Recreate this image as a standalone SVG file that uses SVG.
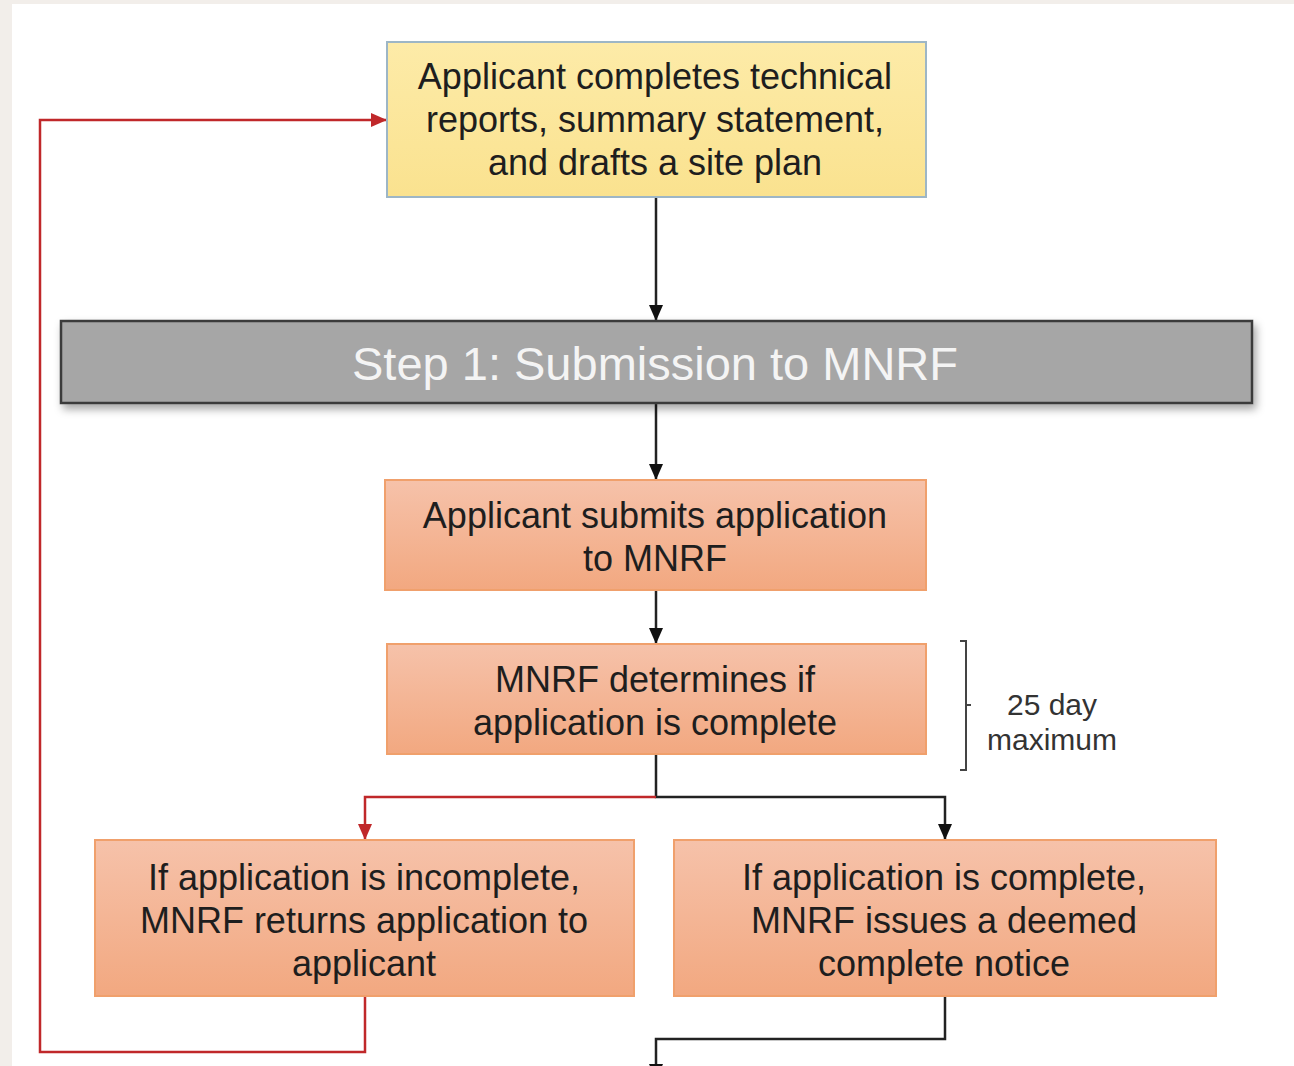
<svg xmlns="http://www.w3.org/2000/svg" width="1294" height="1066" viewBox="0 0 1294 1066">
<style>
.t{font-family:"Liberation Sans",Arial,sans-serif;font-size:36px;fill:#1e1e1e;text-anchor:middle}
.s{font-family:"Liberation Sans",Arial,sans-serif;font-size:30px;fill:#333;text-anchor:middle}
.step{font-family:"Liberation Sans",Arial,sans-serif;font-size:47px;fill:#f4f4f4;text-anchor:middle}
.ora{fill:url(#og);stroke:#f0a06c;stroke-width:2}
.blk{fill:none;stroke:#222;stroke-width:2.5}
.red{fill:none;stroke:#c0282a;stroke-width:2.5}
</style>
<defs>
<linearGradient id="og" x1="0" y1="0" x2="0" y2="1">
<stop offset="0" stop-color="#f6c2aa"/>
<stop offset="1" stop-color="#f2a880"/>
</linearGradient>
<linearGradient id="yg" x1="0" y1="0" x2="0" y2="1">
<stop offset="0" stop-color="#fdeba8"/>
<stop offset="1" stop-color="#fae28f"/>
</linearGradient>
<filter id="sh" x="-5%" y="-20%" width="110%" height="150%">
<feDropShadow dx="3" dy="5" stdDeviation="4" flood-color="#000" flood-opacity="0.35"/>
</filter>
<marker id="ab" viewBox="0 0 16 14" refX="16" refY="7" markerWidth="16" markerHeight="14" markerUnits="userSpaceOnUse" orient="auto">
<path d="M0,0 L16,7 L0,14 z" fill="#111"/>
</marker>
<marker id="ar" viewBox="0 0 16 14" refX="16" refY="7" markerWidth="16" markerHeight="14" markerUnits="userSpaceOnUse" orient="auto">
<path d="M0,0 L16,7 L0,14 z" fill="#c0282a"/>
</marker>
</defs>
<rect x="0" y="0" width="1294" height="1066" fill="#f2eeea"/>
<rect x="12" y="4" width="1282" height="1062" fill="#ffffff"/>

<g id="connectors">
<path class="blk" d="M656,197 V321" marker-end="url(#ab)"/>
<path class="blk" d="M656,403 V480" marker-end="url(#ab)"/>
<path class="blk" d="M656,590 V644" marker-end="url(#ab)"/>
<path class="blk" d="M656,754 V797 H945 V840" marker-end="url(#ab)"/>
<path class="red" d="M656,797 H365 V840" marker-end="url(#ar)"/>
<path class="red" d="M365,996 V1052 H40 V120 H387" marker-end="url(#ar)"/>
<path class="blk" d="M945,996 V1039 H656 V1080" marker-end="url(#ab)"/>
</g>

<g id="node-prepare">
<rect x="387" y="42" width="539" height="155" fill="url(#yg)" stroke="#9db6c6" stroke-width="2"/>
<text class="t" x="655" y="89">Applicant completes technical</text>
<text class="t" x="655" y="132">reports, summary  statement,</text>
<text class="t" x="655" y="175">and drafts a site plan</text>
</g>

<g id="node-step1">
<rect x="61" y="321" width="1191" height="82" fill="#a6a6a6" stroke="#3a3a3a" stroke-width="2.5" filter="url(#sh)"/>
<text class="step" x="655" y="380">Step 1: Submission  to MNRF</text>
</g>

<g id="node-submit">
<rect class="ora" x="385" y="480" width="541" height="110"/>
<text class="t" x="655" y="528">Applicant submits application</text>
<text class="t" x="655" y="571">to MNRF</text>
</g>

<g id="node-determine">
<rect class="ora" x="387" y="644" width="539" height="110"/>
<text class="t" x="655" y="692">MNRF  determines if</text>
<text class="t" x="655" y="735">application is complete</text>
</g>

<g id="node-timing">
<path d="M960,641 H966 V770 H960 M966,705 H971" fill="none" stroke="#444" stroke-width="2"/>
<text class="s" x="1052" y="715">25 day</text>
<text class="s" x="1052" y="750">maximum</text>
</g>

<g id="node-incomplete">
<rect class="ora" x="95" y="840" width="539" height="156"/>
<text class="t" x="364" y="890">If application is incomplete,</text>
<text class="t" x="364" y="933">MNRF  returns  application to</text>
<text class="t" x="364" y="976">applicant</text>
</g>

<g id="node-complete">
<rect class="ora" x="674" y="840" width="542" height="156"/>
<text class="t" x="944" y="890">If application is complete,</text>
<text class="t" x="944" y="933">MNRF  issues a deemed</text>
<text class="t" x="944" y="976">complete notice</text>
</g>
</svg>
